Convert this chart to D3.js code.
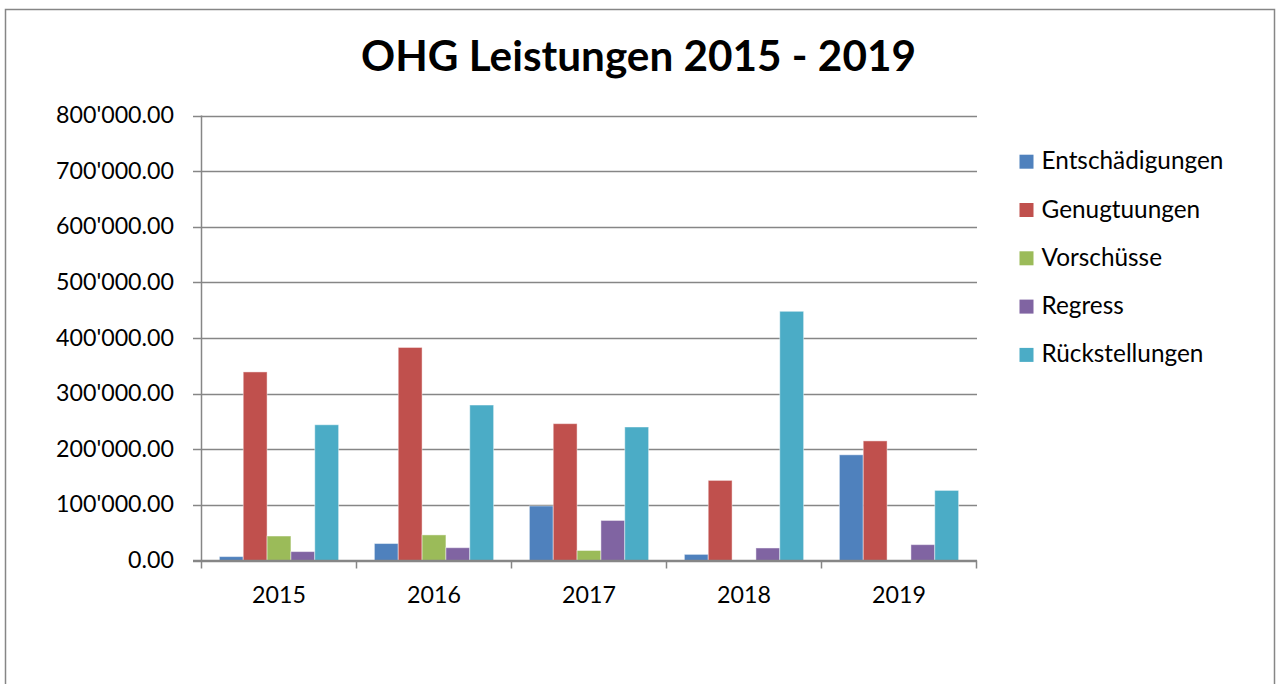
<!DOCTYPE html>
<html>
<head>
<meta charset="utf-8">
<script src="https://cdn.jsdelivr.net/npm/d3@7"></script>
<style>
  html, body { margin: 0; padding: 0; background: #fff; }
  svg { display: block; }
  text { font-family: Lato, "Open Sans", sans-serif; fill: #000; }
</style>
</head>
<body>
<svg id="chart" width="1279" height="684"></svg>
<script>
const title = "OHG Leistungen 2015 - 2019";
const years = ["2015", "2016", "2017", "2018", "2019"];
const seriesNames = ["Entschädigungen", "Genugtuungen", "Vorschüsse", "Regress", "Rückstellungen"];
const entschaedigungen = [7000, 30500, 98000, 11000, 190000];
const genugtuungen = [339000, 383000, 246000, 144000, 215000];
const vorschuesse = [44000, 46000, 18000, 0, 0];
const regress = [16000, 23000, 72000, 22500, 28500];
const rueckstellungen = [244000, 279500, 240000, 448000, 126000];
const yTicks = [0, 100000, 200000, 300000, 400000, 500000, 600000, 700000, 800000];
const colors = ["#4F81BD", "#C0504D", "#9BBB59", "#8064A2", "#4BACC6"];

const seriesValues = [entschaedigungen, genugtuungen, vorschuesse, regress, rueckstellungen];

const svg = d3.select("#chart");

// outer chart border
svg.append("rect")
  .attr("x", 5.5).attr("y", 9.5)
  .attr("width", 1269).attr("height", 700)
  .attr("fill", "#fff").attr("stroke", "#868686").attr("stroke-width", 1.5);

const plot = { left: 201.5, right: 976.5, top: 115.5, bottom: 560.5 };

const y = d3.scaleLinear().domain([0, 800000]).range([plot.bottom, plot.top]);
const x = d3.scaleBand().domain(years).range([plot.left, plot.right]).padding(0);
const xs = d3.scaleBand().domain(seriesNames).range([0, x.bandwidth()])
  .paddingInner(0).paddingOuter(0.75);

// helper to fit font size to a target width
function fitSize(sel, targetW) {
  const node = sel.node();
  const w = node.getComputedTextLength();
  const cur = parseFloat(sel.attr("font-size"));
  return cur * targetW / w;
}

// gridlines
svg.append("g").selectAll("line").data(yTicks).join("line")
  .attr("x1", 193).attr("x2", plot.right + 0.5)
  .attr("y1", d => Math.round(y(d)) + 0.5).attr("y2", d => Math.round(y(d)) + 0.5)
  .attr("stroke", "#868686").attr("stroke-width", 1.5);

// y axis line
svg.append("line")
  .attr("x1", plot.left).attr("x2", plot.left)
  .attr("y1", plot.top).attr("y2", plot.bottom)
  .attr("stroke", "#868686").attr("stroke-width", 1.5);

// y tick labels
const fmt = v => {
  const s = d3.format(",.2f")(v);
  return s.replace(/,/g, "'");
};
const probe = svg.append("text").attr("font-size", 100).text("800'000.00");
const ySize = fitSize(probe, 118);
probe.remove();
svg.append("g").selectAll("text").data(yTicks).join("text")
  .attr("x", 174).attr("y", d => y(d) + 7.5)
  .attr("text-anchor", "end").attr("font-size", ySize)
  .text(fmt);

// bars
const groups = svg.append("g").selectAll("g").data(years).join("g")
  .attr("transform", d => `translate(${x(d)},0)`);
groups.selectAll("rect")
  .data((yr, i) => seriesNames.map((s, j) => ({ s, j, v: seriesValues[j][i] })))
  .join("rect")
  .filter(d => d.v > 0)
  .attr("x", d => xs(d.s))
  .attr("width", xs.bandwidth())
  .attr("y", d => y(d.v))
  .attr("height", d => y(0) - y(d.v))
  .attr("fill", d => colors[d.j])
  .attr("stroke", "rgba(255,255,255,0.45)").attr("stroke-width", 1);

// x axis line and ticks
svg.append("line")
  .attr("x1", 193).attr("x2", plot.right + 0.5)
  .attr("y1", plot.bottom).attr("y2", plot.bottom)
  .attr("stroke", "#868686").attr("stroke-width", 1.5);
const bounds = years.map(d => x(d)).concat([plot.right]);
svg.append("g").selectAll("line").data(bounds).join("line")
  .attr("x1", d => d).attr("x2", d => d)
  .attr("y1", plot.bottom).attr("y2", plot.bottom + 8)
  .attr("stroke", "#868686").attr("stroke-width", 1.5);

// x labels
svg.append("g").selectAll("text").data(years).join("text")
  .attr("x", d => x(d) + x.bandwidth() / 2).attr("y", 603)
  .attr("text-anchor", "middle").attr("font-size", ySize)
  .text(d => d);

// title
const t = svg.append("text").attr("font-size", 100).attr("font-weight", "bold").text(title);
const tSize = fitSize(t, 555);
t.attr("font-size", tSize).attr("x", 638.5).attr("y", 71).attr("text-anchor", "middle");

// legend
const lp = svg.append("text").attr("font-size", 100).text("Entschädigungen");
const lSize = fitSize(lp, 182);
lp.remove();
const legend = svg.append("g").selectAll("g").data(seriesNames).join("g")
  .attr("transform", (d, i) => `translate(1019.5, ${161.7 + i * 48.3})`);
legend.append("rect")
  .attr("x", 0).attr("y", -7).attr("width", 14).attr("height", 14)
  .attr("fill", (d, i) => colors[i]);
legend.append("text")
  .attr("x", 22).attr("y", 7.5).attr("font-size", lSize)
  .text(d => d);
</script>
</body>
</html>
